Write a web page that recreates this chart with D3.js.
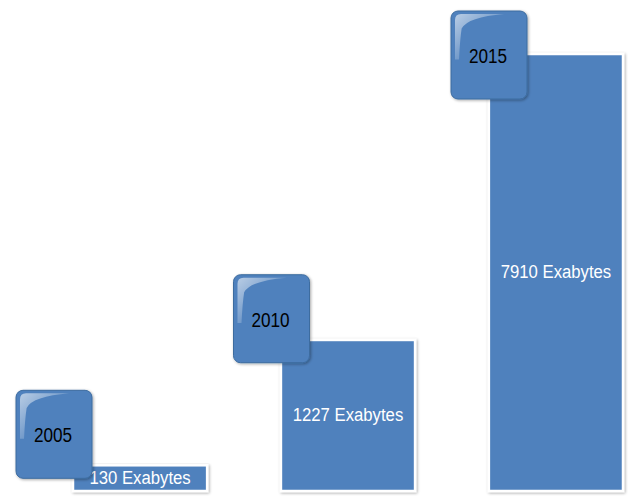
<!DOCTYPE html>
<html>
<head>
<meta charset="utf-8">
<script src="https://cdn.jsdelivr.net/npm/d3@7"></script>
<style>
  html, body { margin: 0; padding: 0; background: #ffffff; }
  svg { display: block; }
</style>
</head>
<body>
<svg id="chart" width="641" height="497"></svg>
<script>
// ---- data ----
const years = ["2005", "2010", "2015"];
const values = [130, 1227, 7910];
const unit = "Exabytes";

const W = 641, H = 497;
const svg = d3.select("#chart");
const defs = svg.append("defs");

const barColor = "#4F81BD";
const boxStroke = "#3D6C9F";
const font = "'Liberation Sans', Arial, sans-serif";
const narrow = 0.88; // horizontal squeeze to mimic a narrow face

// shadow filter
const sh = defs.append("filter").attr("id", "shadow")
  .attr("x", "-10%").attr("y", "-10%").attr("width", "130%").attr("height", "130%");
sh.append("feGaussianBlur").attr("in", "SourceAlpha").attr("stdDeviation", 1.8).attr("result", "b");
sh.append("feOffset").attr("in", "b").attr("dx", 1).attr("dy", 1).attr("result", "o");
sh.append("feComponentTransfer").attr("in", "o").attr("result", "s")
  .append("feFuncA").attr("type", "linear").attr("slope", 0.35);
const m = sh.append("feMerge");
m.append("feMergeNode").attr("in", "s");
m.append("feMergeNode").attr("in", "SourceGraphic");

// gloss gradient
const g = defs.append("linearGradient").attr("id", "gloss")
  .attr("x1", "0").attr("y1", "0").attr("x2", "1").attr("y2", "1");
g.append("stop").attr("offset", "0%").attr("stop-color", "#fff").attr("stop-opacity", 0.6);
g.append("stop").attr("offset", "60%").attr("stop-color", "#fff").attr("stop-opacity", 0.15);
g.append("stop").attr("offset", "100%").attr("stop-color", "#fff").attr("stop-opacity", 0.0);

// ---- scales ----
const baseY = 491;
const x = d3.scaleBand().domain(years).range([73, 623]).paddingInner(0.355);
const y = d3.scaleSqrt().domain([43, 7910]).range([baseY, 54]);
const boxX = d3.scalePoint().domain(years).range([54, 489]);
const boxY = d3.scaleSqrt().domain([43, 7910]).range([458, 55]);

const data = years.map((yr, i) => ({ year: yr, value: values[i] }));

// ---- bars ----
svg.append("g").selectAll("rect").data(data).join("rect")
  .attr("x", d => x(d.year))
  .attr("y", d => y(d.value))
  .attr("width", x.bandwidth())
  .attr("height", d => baseY - y(d.value))
  .attr("fill", barColor)
  .attr("stroke", "#ffffff")
  .attr("stroke-width", 2.5)
  .attr("filter", "url(#shadow)");

// ---- value labels ----
svg.append("g").selectAll("text").data(data).join("text")
  .attr("transform", d => `translate(${x(d.year) + x.bandwidth() / 2},${(y(d.value) + baseY) / 2 - 1}) scale(${narrow},1)`)
  .attr("text-anchor", "middle")
  .attr("dominant-baseline", "central")
  .attr("fill", "#ffffff")
  .style("font-family", font)
  .style("font-size", "19px")
  .text(d => d.value + " " + unit);

// ---- year boxes ----
const bw = 76, bh = 88;
const boxes = svg.append("g").selectAll("g").data(data).join("g")
  .attr("transform", d => `translate(${boxX(d.year) - bw / 2},${boxY(d.value) - bh / 2})`);

boxes.append("rect")
  .attr("width", bw).attr("height", bh)
  .attr("rx", 7).attr("ry", 7)
  .attr("fill", barColor)
  .attr("stroke", boxStroke)
  .attr("stroke-width", 1)
  .attr("filter", "url(#shadow)");

boxes.append("path")
  .attr("d", `M4,${bh * 0.55} L4,9 Q4,3 10,3 L${bw * 0.7},3 Q${bw * 0.22},6 ${bw * 0.14},${bh * 0.2} Q9,${bh * 0.32} 8,${bh * 0.55} Z`)
  .attr("fill", "url(#gloss)");

boxes.append("text")
  .attr("transform", `translate(${bw / 2 - 1},${bh / 2 + 1}) scale(${narrow},1)`)
  .attr("text-anchor", "middle")
  .attr("dominant-baseline", "central")
  .attr("fill", "#000000")
  .style("font-family", font)
  .style("font-size", "19.5px")
  .text(d => d.year);
</script>
</body>
</html>
